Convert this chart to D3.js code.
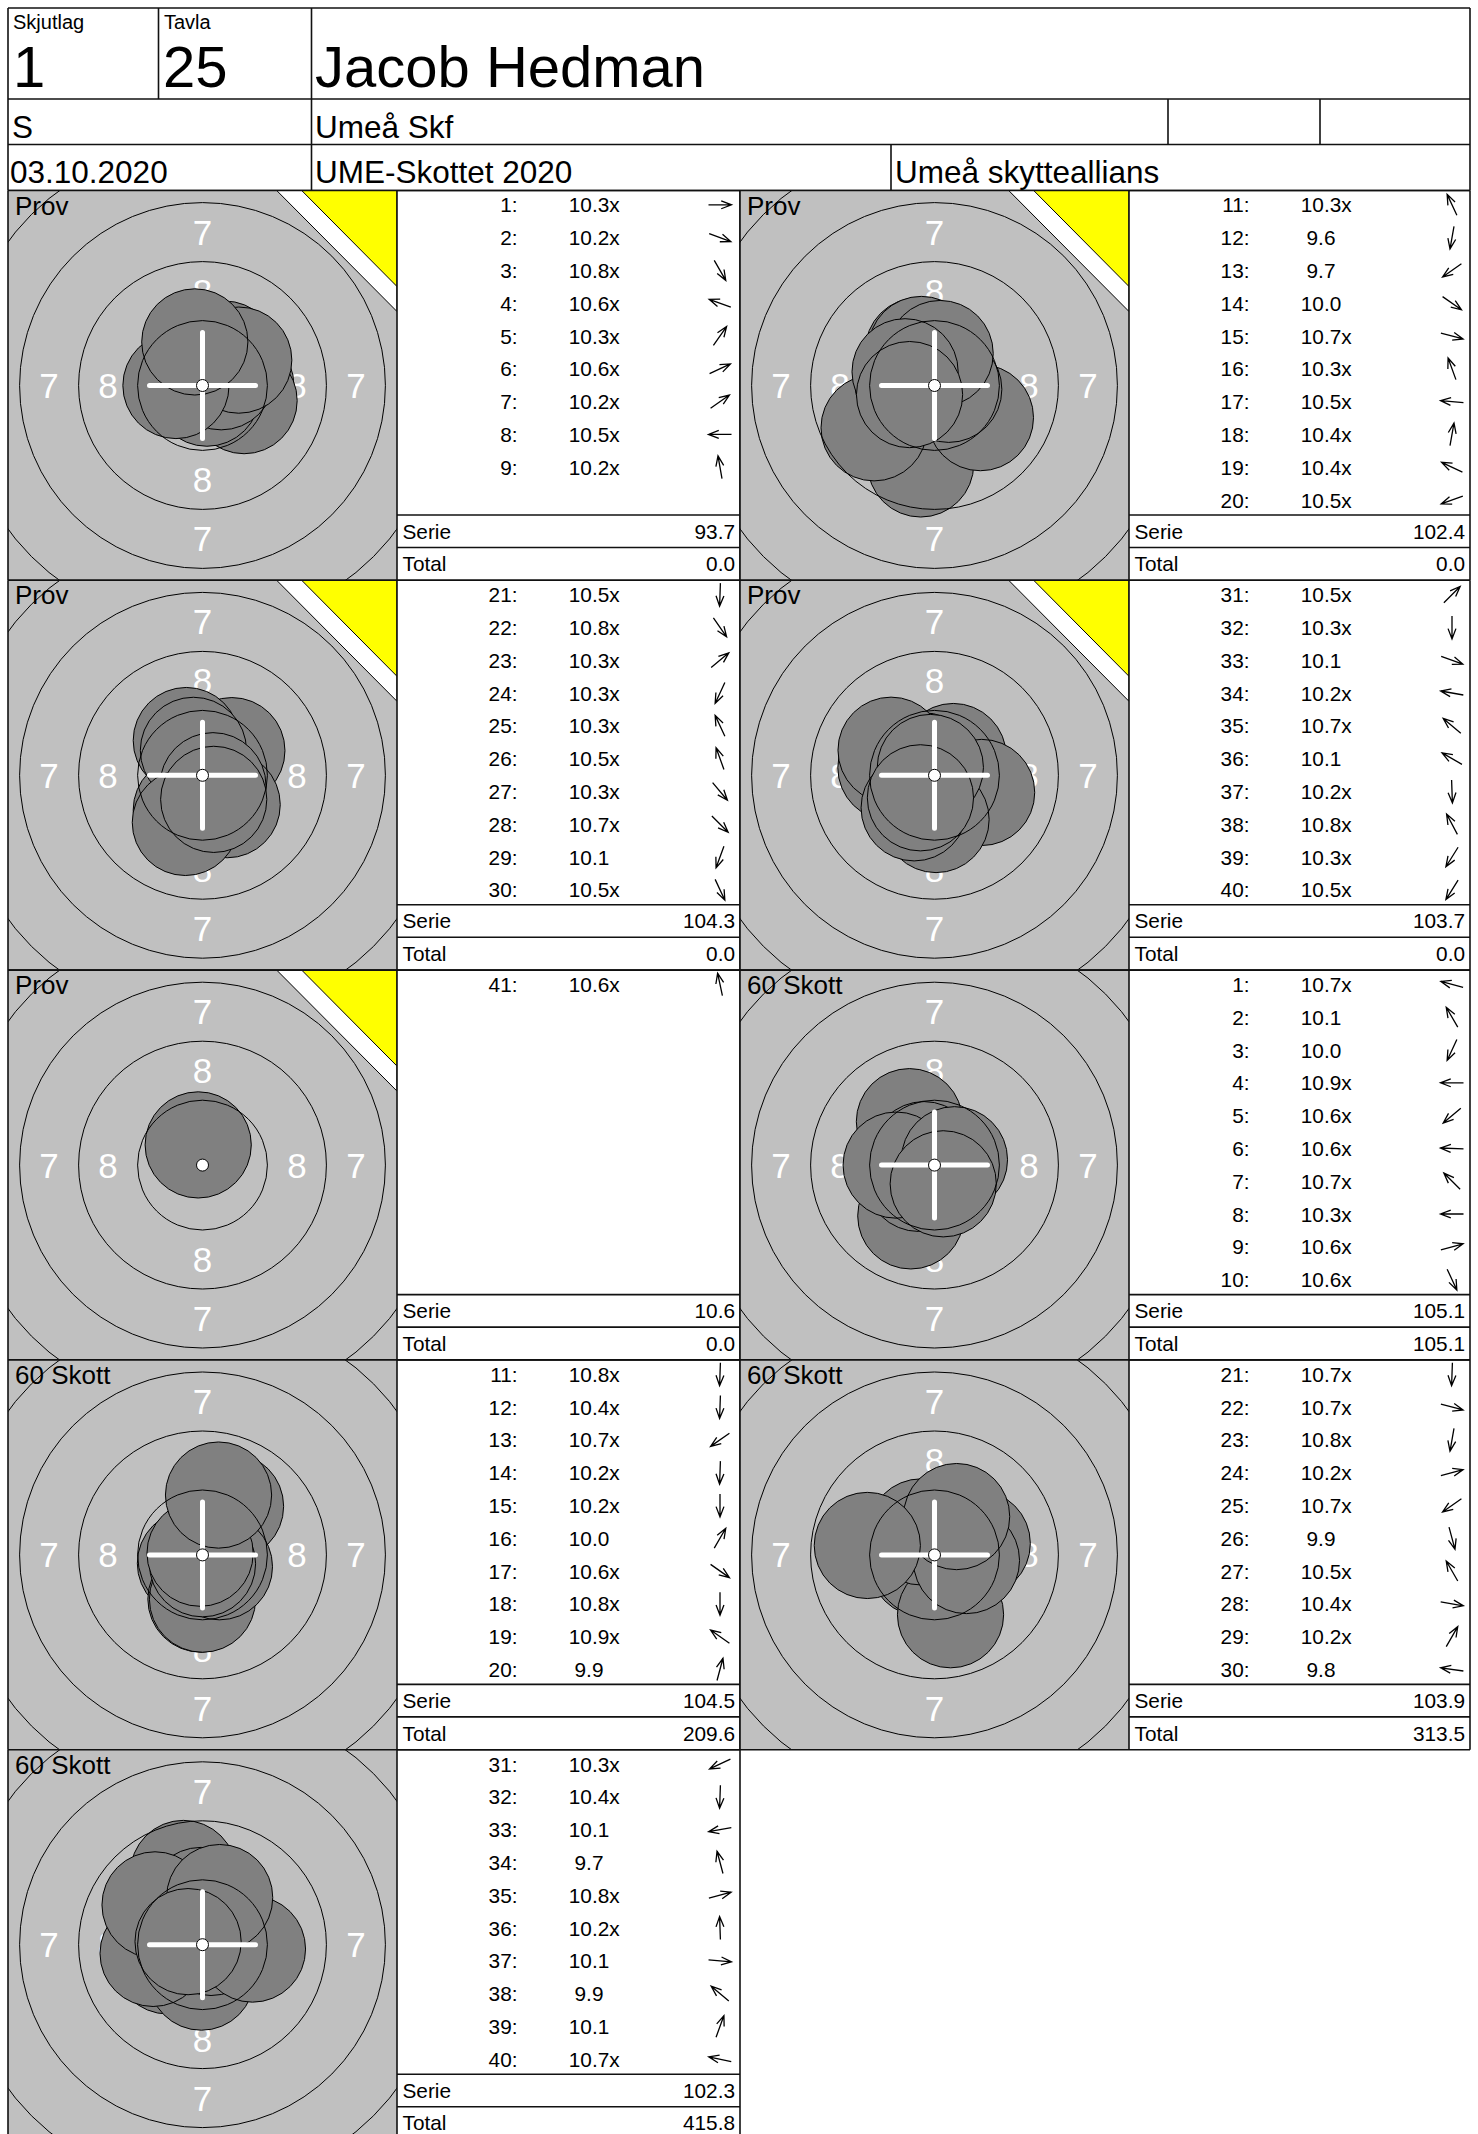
<!DOCTYPE html>
<html><head><meta charset="utf-8">
<script src="https://cdn.jsdelivr.net/npm/d3@7"></script>
<style>
body{margin:0;background:#fff}
svg{display:block}
text{font-family:"Liberation Sans",Arial,Helvetica,sans-serif}
</style>
</head><body>
<svg id="c" width="1478" height="2134"></svg>
<script>
// ---------------- DATA ----------------
const skjutlagLabel = "Skjutlag", skjutlagValue = "1";
const tavlaLabel = "Tavla", tavlaValue = "25";
const shooterName = "Jacob Hedman";
const shooterClass = "S";
const clubName = "Umeå Skf";
const eventDate = "03.10.2020";
const competitionName = "UME-Skottet 2020";
const organizerName = "Umeå skytteallians";

const seriesTitles = ["Prov","Prov","Prov","Prov","Prov","60 Skott","60 Skott","60 Skott","60 Skott"];
const seriesFirstShot = [1, 11, 21, 31, 41, 1, 11, 21, 31];

// scores (x = inner ten) and arrow direction (degrees, counter-clockwise from right)
const prov1Scores  = ["10.3x","10.2x","10.8x","10.6x","10.3x","10.6x","10.2x","10.5x","10.2x"];
const prov1Angles  = [0, -20, -60, 160, 55, 25, 35, 180, 100];
const prov2Scores  = ["10.3x","9.6","9.7","10.0","10.7x","10.3x","10.5x","10.4x","10.4x","10.5x"];
const prov2Angles  = [115, -100, -145, -35, -15, 110, 175, 80, 155, -160];
const prov3Scores  = ["10.5x","10.8x","10.3x","10.3x","10.3x","10.5x","10.3x","10.7x","10.1","10.5x"];
const prov3Angles  = [-92, -55, 40, -115, 115, 110, -50, -45, -110, -65];
const prov4Scores  = ["10.5x","10.3x","10.1","10.2x","10.7x","10.1","10.2x","10.8x","10.3x","10.5x"];
const prov4Angles  = [45, -90, -20, 170, 140, 150, -88, 118, -122, -122];
const prov5Scores  = ["10.6x"];
const prov5Angles  = [102];
const match1Scores = ["10.7x","10.1","10.0","10.9x","10.6x","10.6x","10.7x","10.3x","10.6x","10.6x"];
const match1Angles = [165, 120, -115, 180, -140, 178, 135, 180, 15, -65];
const match2Scores = ["10.8x","10.4x","10.7x","10.2x","10.2x","10.0","10.6x","10.8x","10.9x","9.9"];
const match2Angles = [-92, -92, -145, -92, -90, 60, -35, -90, 145, 75];
const match3Scores = ["10.7x","10.7x","10.8x","10.2x","10.7x","9.9","10.5x","10.4x","10.2x","9.8"];
const match3Angles = [-92, -15, -100, 15, -145, -75, 120, -10, 60, 172];
const match4Scores = ["10.3x","10.4x","10.1","9.7","10.8x","10.2x","10.1","9.9","10.1","10.7x"];
const match4Angles = [-155, -92, -170, 105, 15, 92, -5, 140, 70, 168];

const serieValues = ["93.7","102.4","104.3","103.7","10.6","105.1","104.5","103.9","102.3"];
const totalValues = ["0.0","0.0","0.0","0.0","0.0","105.1","209.6","313.5","415.8"];

const ringValues = [9, 8, 7, 6];          // drawn ring lines
const ringLabelValues = [7, 8];           // numbered bands

const allScores = [prov1Scores, prov2Scores, prov3Scores, prov4Scores, prov5Scores,
                   match1Scores, match2Scores, match3Scores, match4Scores];
const allAngles = [prov1Angles, prov2Angles, prov3Angles, prov4Angles, prov5Angles,
                   match1Angles, match2Angles, match3Angles, match4Angles];

// ---------------- LAYOUT ----------------
const svg = d3.select("#c");
const LINE = "#111", LW = 1.6;
const TFS = 20.8; // table font size

// ring geometry (10 m air rifle, mm)
const ringRadiusMm = v => 0.25 + (10 - v) * 2.5;     // outer radius of ring v
const mmToPx = d3.scaleLinear().domain([0, 1]).range([0, 23.6]);
const scoreToMm = d3.scaleLinear().domain([10.95, 9.95]).range([0, 2.5]);
const shotRadiusMm = 2.25;

const PANEL_H = 389.8, TOP0 = 190.5;
const colTargetX = [8, 740], colTableX = [397, 1129], colRightX = [740, 1470];
const TARGET_W = 389;

// ---- header ----
const g = svg.append("g");
g.append("rect").attr("width", 1478).attr("height", 2134).attr("fill", "#fff");
const hLines = [
  [8, 8, 1470, 8], [8, 99, 1470, 99], [8, 144.5, 1470, 144.5], [8, 190.5, 1470, 190.5],
  [8, 8, 8, 190.5], [1470, 8, 1470, 190.5],
  [158.5, 8, 158.5, 99], [311.5, 8, 311.5, 190.5],
  [1168, 99, 1168, 144.5], [1320, 99, 1320, 144.5], [891, 144.5, 891, 190.5]
];
g.selectAll("line.h").data(hLines).join("line")
  .attr("x1", d => d[0]).attr("y1", d => d[1]).attr("x2", d => d[2]).attr("y2", d => d[3])
  .attr("stroke", LINE).attr("stroke-width", LW);

const headerTexts = [
  [skjutlagLabel, 13, 29.3, 20], [tavlaLabel, 164, 29.3, 20],
  [skjutlagValue, 13, 86.7, 58], [tavlaValue, 163, 86.7, 58], [shooterName, 315, 86.7, 58],
  [shooterClass, 12, 138.3, 31.5], [clubName, 315, 138.3, 31.5],
  [eventDate, 10, 182.7, 31.5], [competitionName, 315, 182.7, 31.5], [organizerName, 895, 182.7, 31.5]
];
g.selectAll("text.h").data(headerTexts).join("text")
  .attr("x", d => d[1]).attr("y", d => d[2]).attr("font-size", d => d[3])
  .attr("fill", "#000").text(d => d[0]);

// ---- arrow ----
function arrowPath(cx, cy, deg) {
  const L = 23, h = 11, spread = 21 * Math.PI / 180;
  const a = deg * Math.PI / 180;
  const dx = Math.cos(a), dy = -Math.sin(a);
  const x1 = cx - dx * L / 2, y1 = cy - dy * L / 2, x2 = cx + dx * L / 2, y2 = cy + dy * L / 2;
  const b = a + Math.PI;
  const p = d3.path();
  p.moveTo(x1, y1); p.lineTo(x2, y2);
  p.moveTo(x2 + h * Math.cos(b - spread), y2 - h * Math.sin(b - spread));
  p.lineTo(x2, y2);
  p.lineTo(x2 + h * Math.cos(b + spread), y2 - h * Math.sin(b + spread));
  return p.toString();
}

// ---- panels ----
allScores.forEach((scores, i) => {
  const row = Math.floor(i / 2), col = i % 2;
  const y0 = TOP0 + row * PANEL_H;
  const tx = colTargetX[col], tabX = colTableX[col], rx = colRightX[col];
  const cx = tx + 194.5, cy = y0 + 195;
  const angles = allAngles[i];
  const isProv = seriesTitles[i] === "Prov";

  const clipId = "clip" + i;
  svg.append("clipPath").attr("id", clipId)
    .append("rect").attr("x", tx).attr("y", y0).attr("width", TARGET_W).attr("height", PANEL_H);
  const tg = svg.append("g").attr("clip-path", `url(#${clipId})`);

  tg.append("rect").attr("x", tx).attr("y", y0).attr("width", TARGET_W).attr("height", PANEL_H)
    .attr("fill", "#c0c0c0");

  // ring numbers
  const labels = [];
  ringLabelValues.forEach(v => {
    const r = mmToPx((ringRadiusMm(v) + ringRadiusMm(v + 1)) / 2);
    [[0, -1], [0, 1], [-1, 0], [1, 0]].forEach(([ux, uy]) => labels.push({v, x: cx + ux * r, y: cy + uy * r}));
  });
  tg.selectAll("text.rl").data(labels).join("text")
    .attr("x", d => d.x).attr("y", d => d.y + 12.5)
    .attr("text-anchor", "middle").attr("font-size", 35).attr("fill", "#fff").text(d => d.v);

  // shots (drawn in order, each opaque)
  const shots = scores.map((s, k) => {
    const val = parseFloat(s);
    const r = mmToPx(scoreToMm(val));
    const a = angles[k] * Math.PI / 180;
    return {x: cx + r * Math.cos(a), y: cy - r * Math.sin(a)};
  });
  const sr = mmToPx(shotRadiusMm);
  tg.selectAll("circle.shot").data(shots).join("circle")
    .attr("cx", d => d.x).attr("cy", d => d.y).attr("r", sr)
    .attr("fill", "#808080").attr("stroke", "#000").attr("stroke-width", 1);

  // rings
  tg.selectAll("circle.ring").data(ringValues).join("circle")
    .attr("cx", cx).attr("cy", cy).attr("r", d => mmToPx(ringRadiusMm(d)))
    .attr("fill", "none").attr("stroke", "#000").attr("stroke-width", 1);

  // sighter marker
  if (isProv) {
    const R = tx + TARGET_W;
    tg.append("path").attr("d", `M${tx + 268.7},${y0}L${R},${y0}L${R},${y0 + 121}Z`)
      .attr("fill", "#fff").attr("stroke", "#000").attr("stroke-width", 1);
    tg.append("path").attr("d", `M${tx + 293.7},${y0}L${R},${y0}L${R},${y0 + 96}Z`)
      .attr("fill", "#ffff00").attr("stroke", "#000").attr("stroke-width", 1);
  }

  // crosshair
  if (scores.length > 1) {
    const ch = 53;
    tg.append("path").attr("d", `M${cx - ch},${cy}L${cx + ch},${cy}M${cx},${cy - ch}L${cx},${cy + ch}`)
      .attr("stroke", "#fff").attr("stroke-width", 5).attr("stroke-linecap", "round").attr("fill", "none");
  }
  tg.append("circle").attr("cx", cx).attr("cy", cy).attr("r", 6)
    .attr("fill", "#fff").attr("stroke", "#000").attr("stroke-width", 1);

  tg.append("text").attr("x", tx + 7).attr("y", y0 + 24).attr("font-size", 26)
    .attr("fill", "#000").text(seriesTitles[i]);

  // ---- table ----
  const tb = svg.append("g");
  const rowY = k => y0 + 14.3 + k * 32.8;
  scores.forEach((s, k) => {
    const yy = rowY(k);
    tb.append("text").attr("x", tabX + 120.5).attr("y", yy + 7.5).attr("text-anchor", "end")
      .attr("font-size", TFS).text((seriesFirstShot[i] + k) + ":");
    const num = s.replace("x", "");
    const t = tb.append("text").attr("x", tabX + 192).attr("y", yy + 7.5).attr("text-anchor", "middle")
      .attr("font-size", TFS).text(num);
    if (s.endsWith("x")) {
      const bb = t.node().getBBox();
      tb.append("text").attr("x", bb.x + bb.width).attr("y", yy + 7.5).attr("font-size", TFS).text("x");
    }
    tb.append("path").attr("d", arrowPath(tabX + 323, yy, angles[k]))
      .attr("fill", "none").attr("stroke", "#000").attr("stroke-width", 1.3);
  });
  const serieY = y0 + 324.5, totalY = y0 + 357;
  tb.append("text").attr("x", tabX + 5.5).attr("y", serieY + 23.6).attr("font-size", TFS).text("Serie");
  tb.append("text").attr("x", rx - 5).attr("y", serieY + 23.6).attr("text-anchor", "end").attr("font-size", TFS).text(serieValues[i]);
  tb.append("text").attr("x", tabX + 5.5).attr("y", totalY + 23.6).attr("font-size", TFS).text("Total");
  tb.append("text").attr("x", rx - 5).attr("y", totalY + 23.6).attr("text-anchor", "end").attr("font-size", TFS).text(totalValues[i]);

  // borders
  const bl = [
    [tx, y0, rx, y0], [tx, y0 + PANEL_H, rx, y0 + PANEL_H],
    [tx, y0, tx, y0 + PANEL_H], [tabX, y0, tabX, y0 + PANEL_H], [rx, y0, rx, y0 + PANEL_H],
    [tabX, serieY, rx, serieY], [tabX, totalY, rx, totalY]
  ];
  tb.selectAll("line.b").data(bl).join("line")
    .attr("x1", d => d[0]).attr("y1", d => d[1]).attr("x2", d => d[2]).attr("y2", d => d[3])
    .attr("stroke", LINE).attr("stroke-width", LW);
});
</script>
</body></html>
